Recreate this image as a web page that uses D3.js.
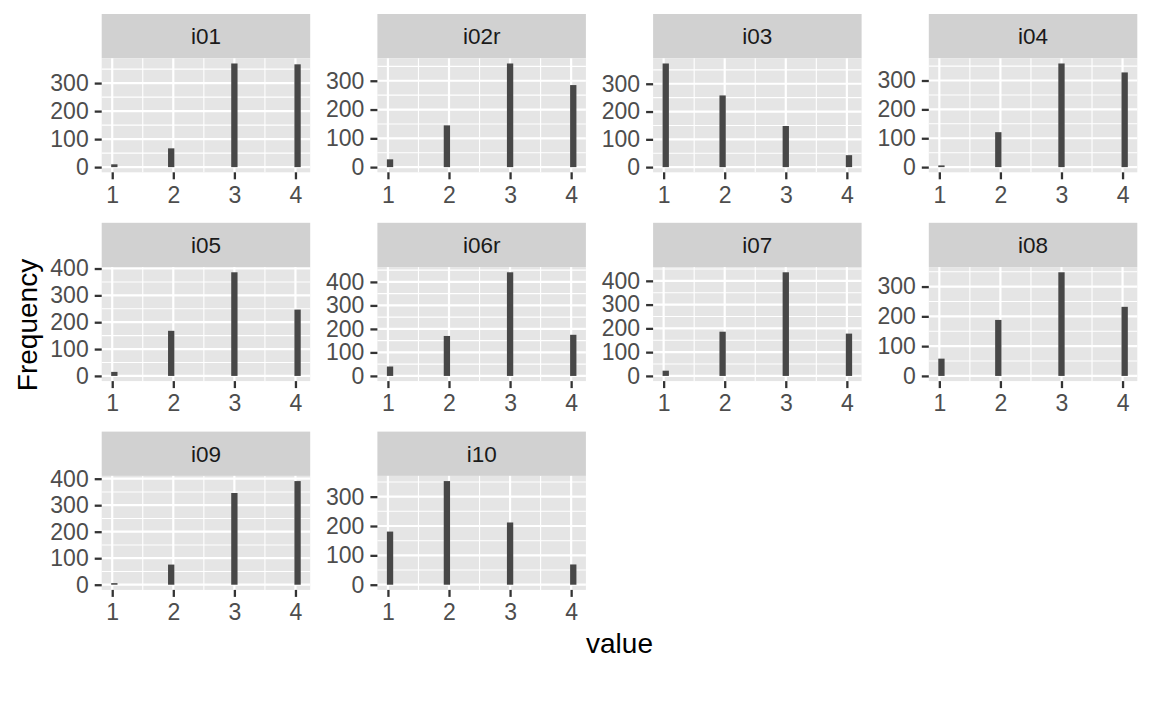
<!DOCTYPE html>
<html lang="en">
<head>
    <meta charset="UTF-8">
    <title>Item frequencies</title>
    <script src="https://cdn.jsdelivr.net/npm/d3@7/dist/d3.min.js"></script>
    <style>
        body { margin: 0; background: #fff; }
        text { font-family: 'Liberation Sans', Arial, sans-serif; }
        .axis path { display: none; }
        .axis line { stroke: #333333; stroke-width: 2.3; }
        .axis text { fill: #4D4D4D; font-size: 23px; }
        .strip text { fill: #1A1A1A; font-size: 22.5px; }
        .title { fill: #000; font-size: 28px; }
    </style>
</head>
<body>
<svg id="img" width="1152" height="711"></svg>
<script>
    // facet names and the response values
    var items = ["i01", "i02r", "i03", "i04", "i05", "i06r", "i07", "i08", "i09", "i10"];
    var values = [1, 2, 3, 4];

    // counts per value (1..4)
    var i01  = [10, 67, 370, 367];
    var i02r = [27, 145, 360, 285];
    var i03  = [373, 258, 148, 43];
    var i04  = [6, 121, 359, 328];
    var i05  = [15, 168, 386, 247];
    var i06r = [40, 170, 441, 175];
    var i07  = [22, 186, 436, 178];
    var i08  = [58, 188, 348, 232];
    var i09  = [6, 76, 346, 391];
    var i10  = [181, 353, 212, 69];
    var counts = [i01, i02r, i03, i04, i05, i06r, i07, i08, i09, i10];

    var xTicks = [1, 2, 3, 4];
    var xMinor = [1.5, 2.5, 3.5];

    var svg = d3.select("#img"),
        NCOL = 4,
        PANEL_X0 = 101.7, COL_STEP = 275.7, PANEL_W = 208.5,
        STRIP_Y0 = 14, ROW_STEP = 208.8, STRIP_H = 44.3, PANEL_H = 114;

    // ggplot-style histogram bins: 30 bins over [1, 4]
    var NBINS = 30,
        binW = (d3.max(values) - d3.min(values)) / (NBINS - 1),
        boundary = binW / 2,
        origin = boundary + Math.floor((d3.min(values) - boundary) / binW) * binW,
        binEnd = origin + NBINS * binW,
        pad = (binEnd - origin) * 0.05;

    function binOf(v) {
        var k = Math.floor((v - origin) / binW);
        return [origin + k * binW, origin + (k + 1) * binW];
    }

    items.forEach(function (name, p) {
        var col = p % NCOL,
            row = Math.floor(p / NCOL),
            left = PANEL_X0 + col * COL_STEP,
            stripTop = STRIP_Y0 + row * ROW_STEP,
            top = stripTop + STRIP_H,
            data = values.map(function (v, i) { return { v: v, n: counts[p][i] }; }),
            ymax = d3.max(data, function (d) { return d.n; });

        var x = d3.scaleLinear()
            .domain([origin - pad, binEnd + pad])
            .range([0, PANEL_W]);
        var y = d3.scaleLinear()
            .domain([-0.05 * ymax, 1.05 * ymax])
            .range([PANEL_H, 0]);

        var yTicks = y.ticks(5).filter(function (t) { return t >= 0; }),
            step = yTicks[1] - yTicks[0],
            yMinor = yTicks.map(function (t) { return t + step / 2; })
                .filter(function (t) { return t <= y.domain()[1]; });

        // strip
        var strip = svg.append("g")
            .attr("class", "strip")
            .attr("transform", "translate(" + left + "," + stripTop + ")");
        strip.append("rect")
            .attr("width", PANEL_W)
            .attr("height", STRIP_H)
            .attr("fill", "#D1D1D1");
        strip.append("text")
            .attr("x", PANEL_W / 2)
            .attr("y", STRIP_H / 2)
            .attr("dy", "0.36em")
            .attr("text-anchor", "middle")
            .text(name);

        var g = svg.append("g")
            .attr("transform", "translate(" + left + "," + top + ")");

        g.append("rect")
            .attr("width", PANEL_W)
            .attr("height", PANEL_H)
            .attr("fill", "#E5E5E5");

        // minor grid
        g.selectAll(".ymin").data(yMinor).enter().append("line")
            .attr("x1", 0).attr("x2", PANEL_W)
            .attr("y1", y).attr("y2", y)
            .attr("stroke", "#fff").attr("stroke-width", 1.1);
        g.selectAll(".xmin").data(xMinor).enter().append("line")
            .attr("y1", 0).attr("y2", PANEL_H)
            .attr("x1", x).attr("x2", x)
            .attr("stroke", "#fff").attr("stroke-width", 1.1);

        // major grid
        g.selectAll(".ymaj").data(yTicks).enter().append("line")
            .attr("x1", 0).attr("x2", PANEL_W)
            .attr("y1", y).attr("y2", y)
            .attr("stroke", "#fff").attr("stroke-width", 2.2);
        g.selectAll(".xmaj").data(xTicks).enter().append("line")
            .attr("y1", 0).attr("y2", PANEL_H)
            .attr("x1", x).attr("x2", x)
            .attr("stroke", "#fff").attr("stroke-width", 2.2);

        // bars
        g.selectAll(".bar").data(data).enter().append("rect")
            .attr("x", function (d) { return x(binOf(d.v)[0]); })
            .attr("width", function (d) { return x(binOf(d.v)[1]) - x(binOf(d.v)[0]); })
            .attr("y", function (d) { return y(d.n); })
            .attr("height", function (d) { return y(0) - y(d.n); })
            .attr("fill", "#474747");

        g.append("g")
            .attr("class", "axis")
            .call(d3.axisLeft(y).tickValues(yTicks).tickSize(7).tickPadding(6));

        g.append("g")
            .attr("class", "axis")
            .attr("transform", "translate(0," + PANEL_H + ")")
            .call(d3.axisBottom(x).tickValues(xTicks).tickFormat(d3.format("d")).tickSize(7).tickPadding(7));
    });

    svg.append("text")
        .attr("class", "title")
        .attr("text-anchor", "middle")
        .attr("x", PANEL_X0 + (3 * COL_STEP + PANEL_W) / 2)
        .attr("y", 653)
        .text("value");

    svg.append("text")
        .attr("class", "title")
        .attr("text-anchor", "middle")
        .attr("transform", "translate(37,325) rotate(-90)")
        .text("Frequency");
</script>
</body>
</html>
